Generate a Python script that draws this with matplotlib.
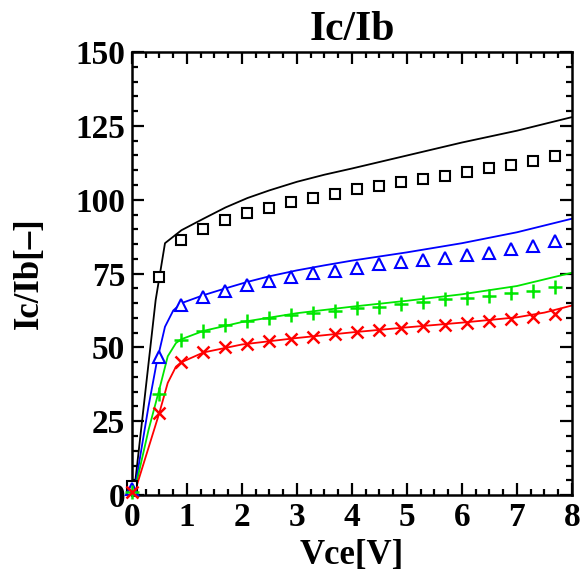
"""
Current gain Ic/Ib against Vce: measured points and simulated curves
for four bias settings.
"""

import matplotlib.pyplot as plt
from matplotlib.ticker import MultipleLocator

# measured points (same Vce grid for every series)
vce_meas = [0.0, 0.5, 0.9, 1.3, 1.7, 2.1, 2.5, 2.9, 3.3, 3.7,
            4.1, 4.5, 4.9, 5.3, 5.7, 6.1, 6.5, 6.9, 7.3, 7.7]
gain_sq = [3.0, 73.8, 86.3, 90.0, 93.0, 95.4, 97.3, 99.2, 100.5, 102.0,
           103.5, 104.6, 105.9, 107.1, 108.2, 109.5, 110.7, 111.9, 113.2, 114.9]
gain_tri = [2.0, 46.8, 64.4, 67.1, 69.2, 71.1, 72.5, 73.9, 75.1, 75.9,
            76.9, 78.1, 78.8, 79.5, 80.4, 81.3, 82.1, 83.2, 84.4, 85.9]
gain_plus = [1.0, 34.3, 52.6, 55.6, 57.6, 58.8, 59.9, 61.0, 61.7, 62.5,
             63.3, 63.8, 64.7, 65.5, 66.3, 66.6, 67.4, 68.3, 69.2, 70.5]
gain_x = [1.0, 27.9, 44.9, 48.4, 50.0, 51.2, 52.2, 52.9, 53.6, 54.4,
          55.2, 55.8, 56.5, 57.1, 57.6, 58.4, 59.1, 59.6, 60.4, 61.3]

# simulated curves
vce_k = [0.05, 0.43, 0.6, 0.9, 1.3, 1.7, 2.1, 2.5, 3.0, 3.5, 4.0, 5.0, 6.0, 7.0, 8.0]
sim_k = [3.0, 66.0, 85.3, 89.7, 93.6, 97.4, 100.6, 103.2, 106.1, 108.5, 110.6, 115.0, 119.4, 123.4, 128.0]

vce_b = [0.05, 0.3, 0.45, 0.6, 0.75, 0.9, 1.3, 1.7, 2.1, 2.5, 3.0, 3.5, 4.0, 5.0, 6.0, 7.0, 8.0]
sim_b = [2.0, 30.0, 45.0, 57.0, 62.5, 65.0, 67.7, 70.0, 72.2, 74.1, 76.1, 77.8, 79.4, 82.2, 85.3, 89.0, 93.6]

vce_g = [0.05, 0.3, 0.5, 0.65, 0.8, 0.9, 1.3, 2.0, 3.0, 4.0, 5.0, 6.0, 7.0, 8.0]
sim_g = [1.5, 22.0, 36.0, 47.0, 51.5, 52.8, 55.6, 58.6, 61.6, 63.8, 65.8, 68.0, 70.8, 75.3]

vce_r = [0.05, 0.5, 0.65, 0.8, 0.9, 1.3, 2.0, 3.0, 4.0, 5.0, 6.0, 7.0, 7.5, 8.0]
sim_r = [1.0, 28.0, 38.0, 43.5, 45.0, 48.3, 51.0, 53.2, 55.1, 56.8, 58.4, 60.2, 61.8, 64.2]

GREEN = "#00e600"
FONT = "Liberation Serif"

plt.rcParams["font.family"] = FONT
plt.rcParams["font.weight"] = "bold"

fig = plt.figure(figsize=(5.83, 5.73), dpi=100)
ax = fig.add_axes([0.2264, 0.136, 0.7547, 0.773])

lw = 1.3
ax.plot(vce_k, sim_k, color="black", lw=lw, zorder=2)
ax.plot(vce_b, sim_b, color="blue", lw=lw, zorder=2)
ax.plot(vce_g, sim_g, color=GREEN, lw=lw, zorder=2)
ax.plot(vce_r, sim_r, color="red", lw=lw, zorder=2)

ax.plot(vce_meas, gain_sq, ls="none", marker="s", ms=7.5, mfc="white",
        mec="black", mew=1.5, clip_on=False, zorder=3)
ax.plot(vce_meas, gain_tri, ls="none", marker="^", ms=8.5, mfc="white",
        mec="blue", mew=1.5, clip_on=False, zorder=3)
ax.plot(vce_meas, gain_plus, ls="none", marker="+", ms=10,
        mec=GREEN, mew=1.8, clip_on=False, zorder=3)
ax.plot(vce_meas, gain_x, ls="none", marker="x", ms=8,
        mec="red", mew=1.8, clip_on=False, zorder=3)

ax.set_xlim(0, 8)
ax.set_ylim(0, 150)
ax.xaxis.set_major_locator(MultipleLocator(1))
ax.xaxis.set_minor_locator(MultipleLocator(0.25))
ax.yaxis.set_major_locator(MultipleLocator(25))
ax.yaxis.set_minor_locator(MultipleLocator(5))

ax.tick_params(which="both", direction="in", top=True, right=True,
               width=1.6, labelsize=24)
ax.tick_params(which="major", length=8.5, pad=5)
ax.tick_params(which="minor", length=4.3)
for s in ax.spines.values():
    s.set_linewidth(1.8)

# keep the end labels inside the frame
ylabels = ax.get_yticklabels()
ylabels[0].set_va("bottom")
ylabels[-1].set_va("top")
ax.get_xticklabels()[0].set_ha("left")
for lab in ax.get_xticklabels() + ax.get_yticklabels():
    lab.set_fontweight("bold")

ax.set_title("Ic/Ib", fontsize=30, fontweight="bold", pad=9)
ax.set_xlabel("Vce[V]", fontsize=25, fontweight="bold", labelpad=4)
ax.set_ylabel("Ic/Ib[–]", fontsize=25, fontweight="bold", labelpad=21)

fig.savefig("out.png", dpi=100)
plt.close(fig)
